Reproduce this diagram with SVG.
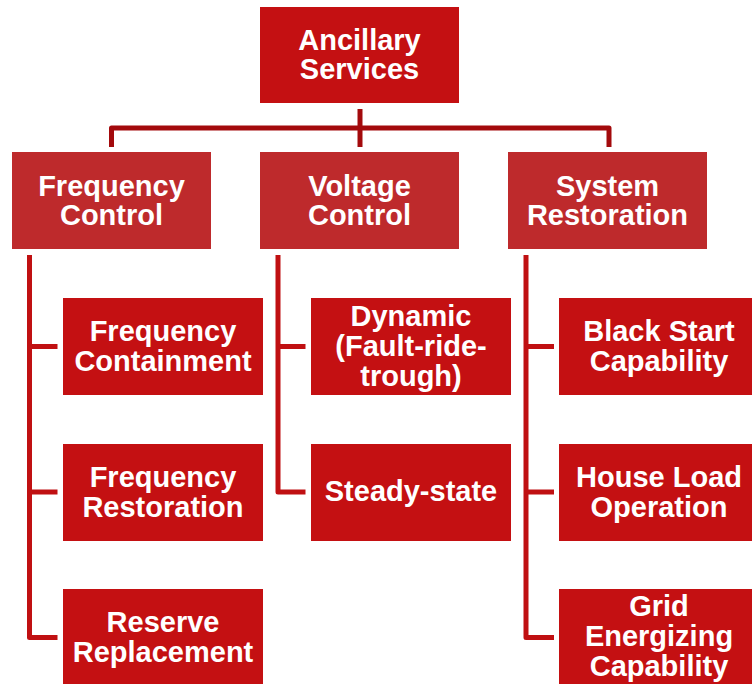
<svg xmlns="http://www.w3.org/2000/svg" width="752" height="684" viewBox="0 0 752 684">
<style>
.top{fill:#C41012}
.l1{fill:#BE2A2C}
.l2{fill:#C41012}
.t{fill:#FFFFFF;font-family:"Liberation Sans",Arial,sans-serif;font-weight:bold;font-size:29px;text-anchor:middle}
.c1{fill:none;stroke:#A30A0C;stroke-width:5;stroke-linejoin:round}
.c2{fill:none;stroke:#C01012;stroke-width:5;stroke-linejoin:round}
</style>
<rect width="752" height="684" fill="#FFFFFF"/>
<g id="connectors">
<path class="c1" d="M111.5,147 V128 H609 V147"/>
<path class="c1" d="M360,109 V147"/>
<path class="c2" d="M29.5,255 V637.5 H57.5 M29.5,346.5 H57.5 M29.5,492 H57.5"/>
<path class="c2" d="M278,255 V492 H305.5 M278,346.5 H305.5"/>
<path class="c2" d="M526,255 V637.5 H554 M526,346.5 H554 M526,492 H554"/>
</g>
<g id="ancillary-services">
<rect class="top" x="260" y="7" width="199" height="96"/>
<text class="t" x="359.5" y="50">Ancillary</text>
<text class="t" x="359.5" y="79">Services</text>
</g>
<g id="frequency-control">
<rect class="l1" x="12" y="152" width="199" height="97"/>
<text class="t" x="111.5" y="195.5">Frequency</text>
<text class="t" x="111.5" y="224.5">Control</text>
</g>
<g id="voltage-control">
<rect class="l1" x="260" y="152" width="199" height="97"/>
<text class="t" x="359.5" y="195.5">Voltage</text>
<text class="t" x="359.5" y="224.5">Control</text>
</g>
<g id="system-restoration">
<rect class="l1" x="508" y="152" width="199" height="97"/>
<text class="t" x="607.5" y="195.5">System</text>
<text class="t" x="607.5" y="224.5">Restoration</text>
</g>
<g id="frequency-containment">
<rect class="l2" x="63" y="298" width="200" height="97"/>
<text class="t" x="163" y="341">Frequency</text>
<text class="t" x="163" y="371">Containment</text>
</g>
<g id="frequency-restoration">
<rect class="l2" x="63" y="444" width="200" height="97"/>
<text class="t" x="163" y="487">Frequency</text>
<text class="t" x="163" y="517">Restoration</text>
</g>
<g id="reserve-replacement">
<rect class="l2" x="63" y="589" width="200" height="97"/>
<text class="t" x="163" y="632">Reserve</text>
<text class="t" x="163" y="662">Replacement</text>
</g>
<g id="dynamic">
<rect class="l2" x="311" y="298" width="200" height="97"/>
<text class="t" x="411" y="326">Dynamic</text>
<text class="t" x="411" y="356">(Fault-ride-</text>
<text class="t" x="411" y="386">trough)</text>
</g>
<g id="steady-state">
<rect class="l2" x="311" y="444" width="200" height="97"/>
<text class="t" x="411" y="501">Steady-state</text>
</g>
<g id="black-start">
<rect class="l2" x="559" y="298" width="200" height="97"/>
<text class="t" x="659" y="341">Black Start</text>
<text class="t" x="659" y="371">Capability</text>
</g>
<g id="house-load">
<rect class="l2" x="559" y="444" width="200" height="97"/>
<text class="t" x="659" y="487">House Load</text>
<text class="t" x="659" y="517">Operation</text>
</g>
<g id="grid-energizing">
<rect class="l2" x="559" y="589" width="200" height="97"/>
<text class="t" x="659" y="616">Grid</text>
<text class="t" x="659" y="646">Energizing</text>
<text class="t" x="659" y="676">Capability</text>
</g>
</svg>
